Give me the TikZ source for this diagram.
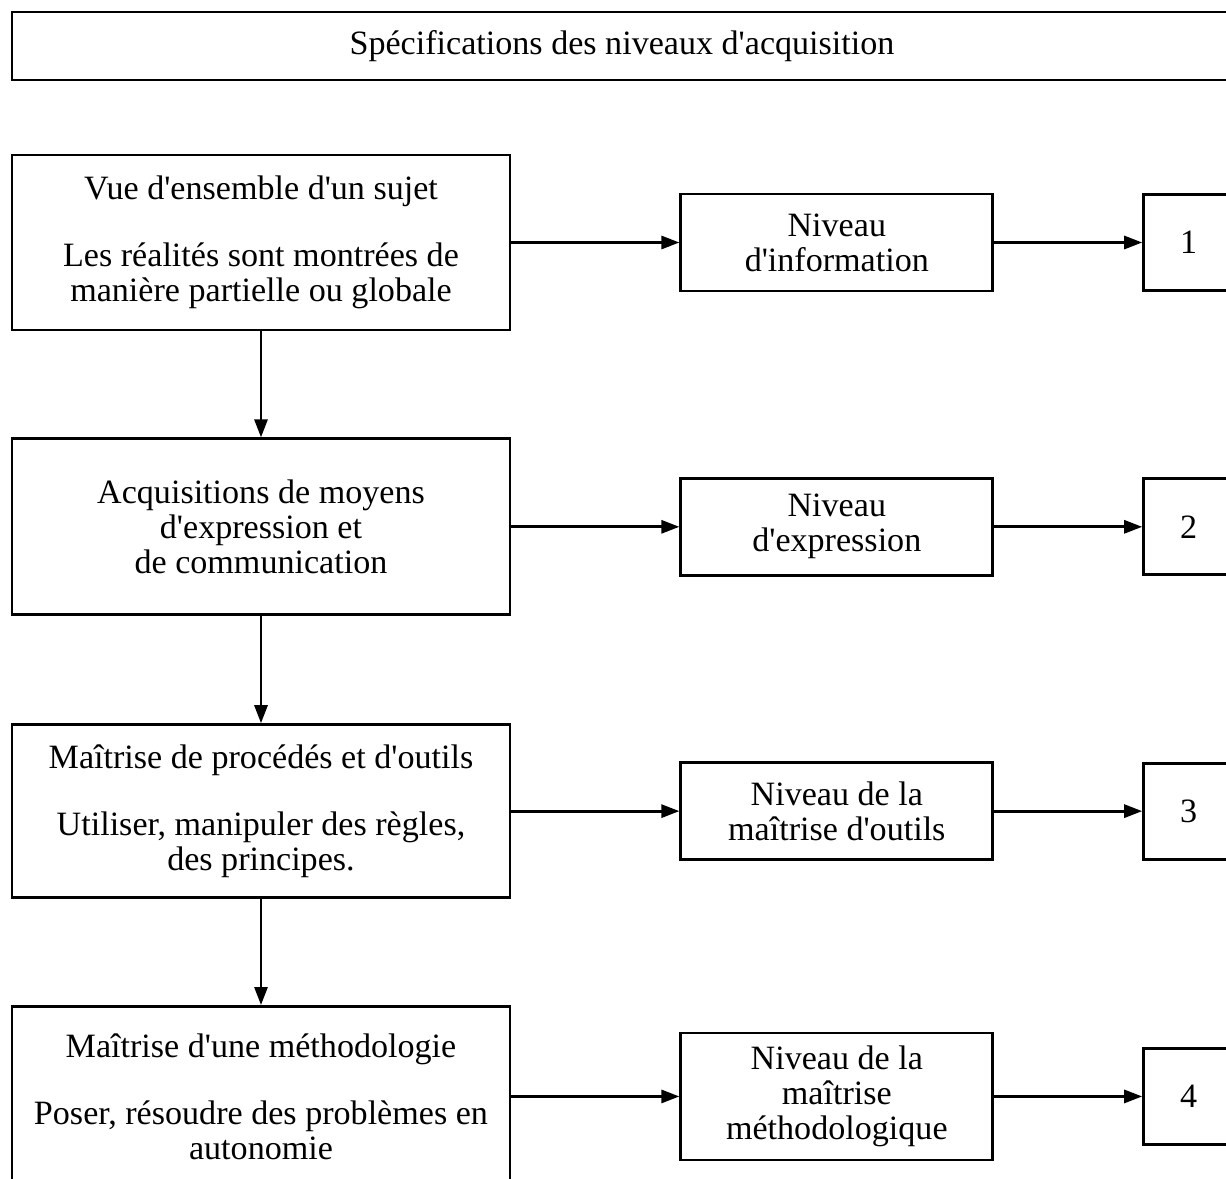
\documentclass[tikz,border=0pt]{standalone}
\usepackage{fontspec}
\setmainfont{Liberation Serif}[Ligatures=TeXOff]
\usetikzlibrary{arrows.meta, positioning}

\begin{document}
\begin{tikzpicture}[
  node distance=2.12cm and 3.36cm,
  box/.style={rectangle, draw, line width=1.6pt, align=center,
              minimum width=9.96cm, minimum height=3.5cm,
              font=\fontsize{19.4}{19.9}\selectfont},
  level/.style={box, minimum width=6.24cm, minimum height=1.94cm},
  rank/.style={box, minimum width=1.8cm, minimum height=1.92cm},
  arrow/.style={-{Triangle[length=0.36cm, width=0.26cm]}, line width=1.6pt}
]
  \clip (0,0) rectangle (24.52,-23.56);
  \node[box, minimum width=24.4cm, minimum height=1.36cm] (titre) at (12.44,-0.92)
    {Spécifications des niveaux d'acquisition};

  \node[box] (sujet) at (5.22,-4.85)
    {Vue d'ensemble d'un sujet\\[0.64cm]Les réalités sont montrées de\\manière partielle ou globale};
  \node[box, below=of sujet, minimum height=3.52cm] (moyens)
    {Acquisitions de moyens\\d'expression et\\de communication};
  \node[box, below=2.14cm of moyens, minimum height=3.46cm] (outils)
    {Maîtrise de procédés et d'outils\\[0.64cm]Utiliser, manipuler des règles,\\des principes.};
  \node[box, below=of outils, minimum height=3.6cm] (methode)
    {Maîtrise d'une méthodologie\\[0.64cm]Poser, résoudre des problèmes en\\autonomie};

  \node[level, right=of sujet] (info) {Niveau\\d'information};
  \node[level, right=of moyens] (expr) {Niveau\\d'expression};
  \node[level, right=of outils] (maitrise) {Niveau de la\\maîtrise d'outils};
  \node[level, right=of methode, minimum height=2.54cm] (methodo) {Niveau de la\\maîtrise\\méthodologique};

  \node[rank, right=2.96cm of info] (un) {1};
  \node[rank, right=2.96cm of expr] (deux) {2};
  \node[rank, right=2.96cm of maitrise] (trois) {3};
  \node[rank, right=2.96cm of methodo] (quatre) {4};

  \draw[arrow] (sujet) -- (moyens);
  \draw[arrow] (moyens) -- (outils);
  \draw[arrow] (outils) -- (methode);

  \draw[arrow] (sujet) -- (info);
  \draw[arrow] (moyens) -- (expr);
  \draw[arrow] (outils) -- (maitrise);
  \draw[arrow] (methode) -- (methodo);

  \draw[arrow] (info) -- (un);
  \draw[arrow] (expr) -- (deux);
  \draw[arrow] (maitrise) -- (trois);
  \draw[arrow] (methodo) -- (quatre);
\end{tikzpicture}
\end{document}
